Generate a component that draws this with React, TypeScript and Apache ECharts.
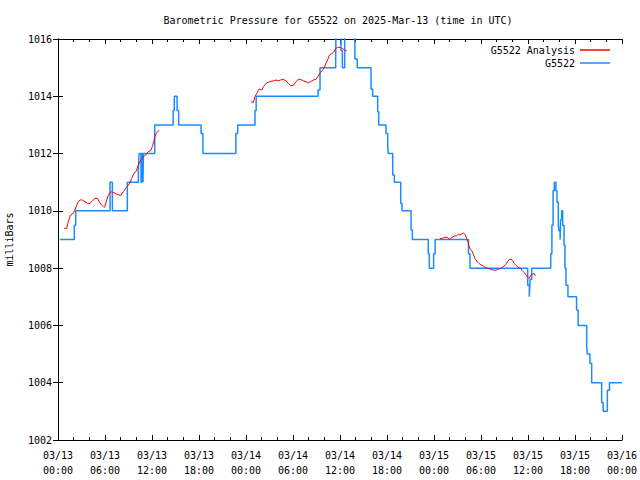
import React, { useEffect, useRef } from "react";
import * as echarts from "echarts";

// Hours since 2025-03-13 00:00 UTC
const xTickHours = [0, 6, 12, 18, 24, 30, 36, 42, 48, 54, 60, 66, 72];
const yTicks = [1002, 1004, 1006, 1008, 1010, 1012, 1014, 1016];

// Station observations (step changes): [hour, milliBars]
const stationObs: [number, number][] = [
  [0.25, 1009], [2.09, 1009.5], [2.26, 1010], [6.64, 1011], [6.94, 1010],
  [8.85, 1011], [10.26, 1011.4], [10.35, 1012], [10.6, 1011], [10.7, 1012],
  [10.85, 1011], [10.9, 1012], [12.35, 1013], [14.7, 1013.5], [14.85, 1014],
  [15.2, 1013.5], [15.4, 1013], [18.26, 1012.7], [18.5, 1012], [22.7, 1012.7],
  [22.94, 1013], [25.15, 1013.5], [25.3, 1014], [33.2, 1014.22], [33.45, 1015],
  [35.45, 1015.4], [35.5, 1016.5], [36.13, 1015.6], [36.3, 1015], [36.6, 1016.5],
  [37.9, 1015.3], [38.2, 1015], [39.96, 1014.25], [40.17, 1014], [40.81, 1013.46],
  [40.94, 1013], [41.87, 1012.7], [42.09, 1012.24], [42.17, 1012], [42.73, 1011.25],
  [42.94, 1011], [43.75, 1010.26], [43.92, 1010], [45.07, 1009.33], [45.24, 1009],
  [47.27, 1008.5], [47.4, 1008], [47.95, 1008.5], [48.15, 1009], [52.4, 1008.5],
  [52.6, 1008], [59.96, 1007.4], [60.17, 1007], [60.26, 1007.6], [60.47, 1008],
  [62.9, 1008.5], [63.05, 1009.5], [63.2, 1010.7], [63.36, 1011], [63.57, 1010.7],
  [63.7, 1010.3], [63.87, 1009.5], [63.96, 1009.3], [64.1, 1009], [64.17, 1009.7],
  [64.3, 1010], [64.43, 1009.5], [64.6, 1008.8], [64.72, 1008], [64.85, 1007.4],
  [65.1, 1007], [66.2, 1006.54], [66.4, 1006], [67.49, 1005.26], [67.57, 1005],
  [67.9, 1004.68], [68.13, 1004], [69.4, 1003.3], [69.6, 1003], [70.13, 1003.74],
  [70.4, 1004], [72, 1004],
];

// Analysis curve, three segments: [hour, milliBars]
const analysisSeg1: [number, number][] = [
  [0.8, 1009.39], [1.11, 1009.39], [1.31, 1009.62], [1.53, 1009.8], [1.75, 1009.89],
  [1.95, 1009.91], [2.17, 1010.03], [2.39, 1010.2], [2.59, 1010.32], [2.81, 1010.38],
  [3.1, 1010.38], [3.45, 1010.32], [3.79, 1010.26], [4.09, 1010.26], [4.38, 1010.35],
  [4.72, 1010.44], [5.02, 1010.44], [5.27, 1010.32], [5.58, 1010.2], [5.87, 1010.12],
  [6.0, 1010.15], [6.22, 1010.38], [6.42, 1010.55], [6.64, 1010.63], [6.86, 1010.67],
  [7.15, 1010.63], [7.49, 1010.58], [7.79, 1010.55], [8.04, 1010.55], [8.34, 1010.67],
  [8.64, 1010.79], [8.9, 1010.87], [9.19, 1010.98], [9.41, 1011.14], [9.7, 1011.31],
  [9.96, 1011.37], [10.25, 1011.6], [10.56, 1011.78], [10.89, 1011.89], [11.2, 1011.95],
  [11.53, 1012.07], [11.83, 1012.1], [12.04, 1012.24], [12.22, 1012.41], [12.38, 1012.61],
  [12.6, 1012.73], [12.8, 1012.79], [12.93, 1012.8],
];
const analysisSeg2: [number, number][] = [
  [24.64, 1013.81], [24.93, 1013.78], [25.15, 1013.99], [25.37, 1014.1], [25.66, 1014.25],
  [26.0, 1014.22], [26.3, 1014.36], [26.64, 1014.47], [27.07, 1014.51], [27.49, 1014.54],
  [27.83, 1014.57], [28.12, 1014.54], [28.43, 1014.57], [28.76, 1014.59], [29.11, 1014.54],
  [29.4, 1014.45], [29.71, 1014.37], [30.04, 1014.38], [30.38, 1014.51], [30.68, 1014.59],
  [30.98, 1014.59], [31.32, 1014.54], [31.66, 1014.51], [31.95, 1014.47], [32.26, 1014.51],
  [32.59, 1014.57], [32.94, 1014.59], [33.15, 1014.68], [33.45, 1014.82], [33.74, 1014.89],
  [34.0, 1015.01], [34.21, 1015.15], [34.51, 1015.33], [34.64, 1015.44], [34.94, 1015.48],
  [35.23, 1015.56], [35.45, 1015.67], [35.71, 1015.71], [36.0, 1015.71], [36.29, 1015.67],
  [36.55, 1015.62], [36.86, 1015.59],
];
const analysisSeg3: [number, number][] = [
  [48.77, 1009.03], [49.11, 1009.04], [49.4, 1009.08], [49.7, 1009.08], [49.95, 1009.0],
  [50.26, 1009.06], [50.55, 1009.12], [50.9, 1009.13], [51.1, 1009.18], [51.32, 1009.16],
  [51.54, 1009.19], [51.74, 1009.23], [51.96, 1009.18], [52.17, 1009.04], [52.38, 1008.87],
  [52.6, 1008.66], [52.81, 1008.61], [53.02, 1008.49], [53.23, 1008.34], [53.53, 1008.22],
  [53.75, 1008.16], [54.0, 1008.12], [54.3, 1008.07], [54.64, 1008.01], [54.94, 1007.99],
  [55.24, 1007.96], [55.58, 1007.93], [55.92, 1007.93], [56.21, 1007.97], [56.52, 1007.99],
  [56.85, 1008.05], [57.16, 1008.13], [57.37, 1008.22], [57.62, 1008.31], [57.83, 1008.31],
  [58.05, 1008.26], [58.25, 1008.16], [58.56, 1008.08], [58.77, 1008.02], [59.07, 1007.99],
  [59.28, 1007.91], [59.53, 1007.84], [59.75, 1007.76], [59.97, 1007.68], [60.17, 1007.64],
  [60.39, 1007.76], [60.61, 1007.79], [60.77, 1007.82], [60.94, 1007.73],
];

const FONT = "'DejaVu Sans Mono', 'Liberation Mono', monospace";
const BLUE = "#1a8cff";
const RED = "#ff0000";

function fmtHour(v: number): string {
  const day = 13 + Math.floor(v / 24);
  const hr = Math.round(v % 24);
  const pad = (n: number) => (n < 10 ? "0" + n : "" + n);
  return "03/" + pad(day) + "\n" + pad(hr) + ":00";
}

export default function App() {
  const ref = useRef<HTMLDivElement>(null);
  useEffect(() => {
    if (!ref.current) return;
    const chart = echarts.init(ref.current, null, { renderer: "svg" });
    const axisLine = { show: true, lineStyle: { color: "#000", width: 1 } };
    const xCommon = {
      type: "value" as const,
      min: xTickHours[0],
      max: xTickHours[xTickHours.length - 1],
      interval: 6,
      axisLine,
      splitLine: { show: false },
      axisTick: { show: true, inside: true, length: 5, lineStyle: { color: "#000" } },
      minorTick: { show: true, splitNumber: 3, length: 3, lineStyle: { color: "#000" } },
    };
    const yCommon = {
      type: "value" as const,
      min: yTicks[0],
      max: yTicks[yTicks.length - 1],
      interval: 2,
      axisLine,
      splitLine: { show: false },
      axisTick: { show: true, inside: true, length: 5, lineStyle: { color: "#000" } },
    };
    const redLine = (data: [number, number][]) => ({
      name: "G5522 Analysis",
      type: "line" as const,
      data,
      symbol: "none",
      showSymbol: false,
      lineStyle: { color: RED, width: 1 },
      itemStyle: { color: RED },
      z: 3,
    });
    chart.setOption({
      animation: false,
      backgroundColor: "#fff",
      grid: { left: 58, right: 18, top: 39, bottom: 40, containLabel: false, outerBoundsMode: "none" },
      graphic: [
        {
          type: "text",
          x: 338,
          y: 20,
          style: {
            text: "Barometric Pressure for G5522 on 2025-Mar-13 (time in UTC)",
            align: "center",
            verticalAlign: "middle",
            fontFamily: FONT,
            fontSize: 10,
            fill: "#000",
          },
        },
      ],
      legend: {
        data: [
          { name: "G5522 Analysis", icon: "rect", itemStyle: { color: RED } },
          { name: "G5522", icon: "rect", itemStyle: { color: BLUE } },
        ],
        orient: "vertical",
        align: "right",
        right: 30,
        top: 44,
        padding: 0,
        itemGap: 1,
        itemWidth: 30,
        itemHeight: 1.5,
        textStyle: { fontFamily: FONT, fontSize: 10, color: "#000", lineHeight: 12 },
      },
      xAxis: [
        {
          ...xCommon,
          position: "bottom",
          axisLabel: {
            show: true,
            formatter: (v: number) => fmtHour(v),
            fontFamily: FONT,
            fontSize: 10,
            color: "#000",
            lineHeight: 15,
            margin: 8,
          },
        },
        { ...xCommon, position: "top", axisLabel: { show: false } },
      ],
      yAxis: [
        {
          ...yCommon,
          position: "left",
          name: "milliBars",
          nameLocation: "middle",
          nameGap: 44,
          nameRotate: 90,
          nameTextStyle: { fontFamily: FONT, fontSize: 10, color: "#000" },
          axisLabel: {
            show: true,
            formatter: (v: number) => String(v),
            fontFamily: FONT,
            fontSize: 10,
            color: "#000",
            margin: 6,
          },
        },
        { ...yCommon, position: "right", axisLabel: { show: false } },
      ],
      series: [
        redLine(analysisSeg1),
        {
          name: "G5522",
          type: "line",
          step: "end",
          data: stationObs,
          symbol: "none",
          showSymbol: false,
          lineStyle: { color: BLUE, width: 1.5 },
          itemStyle: { color: BLUE },
          z: 2,
        },
        redLine(analysisSeg2),
        redLine(analysisSeg3),
      ],
    });
    return () => chart.dispose();
  }, []);
  return (
    <div
      ref={ref}
      style={{ position: "fixed", left: 0, top: 0, width: 640, height: 480 }}
    />
  );
}
